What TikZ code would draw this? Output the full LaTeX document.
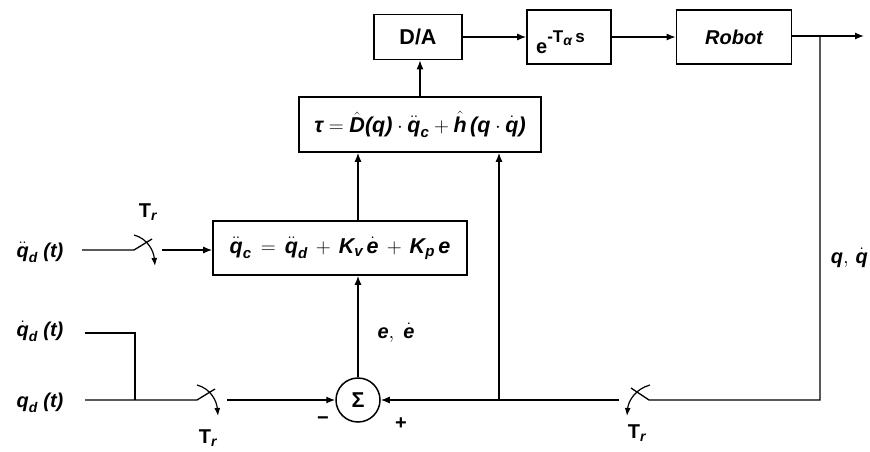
\documentclass[tikz,border=0pt]{standalone}
\usepackage{amsmath}
\usepackage{fontspec}
\setmainfont{Liberation Sans}
\usetikzlibrary{arrows.meta}
\newcommand{\tx}[1]{\text{#1}}
\begin{document}
\begin{tikzpicture}[x=1pt,y=-1pt,
  every node/.style={font=\fontsize{20}{23}\selectfont\bfseries\itshape},
  big/.style={font=\fontsize{21.5}{24}\selectfont\bfseries\itshape},
  blk/.style={draw,line width=1.6pt,inner sep=0pt},
  ln/.style={line width=1.3pt},
  arr/.style={ln,-{Latex[length=9pt,width=7pt]}},
  swarr/.style={line width=1.2pt,-{Latex[length=8pt,width=6pt]}},
  lbl/.style={inner sep=1pt}]
\useasboundingbox (0,0) rectangle (870,452);
% blocks
\node[blk,big,minimum width=88pt,minimum height=45pt] (da) at (418,37) {\upshape D/A};
\node[blk,minimum width=84pt,minimum height=54pt] (ex) at (569,37) {};
\node[lbl,anchor=base west] (exl) at (535,54) {\upshape e\raisebox{11pt}{\fontsize{17}{19}\selectfont -T$_{\tx{\fontsize{14}{15}\selectfont\itshape α}}$\,s}};
\node[blk,minimum width=115pt,minimum height=54pt] (robot) at (734,37) {Robot};
\node[blk,big,minimum width=242pt,minimum height=55pt] (tau) at (420,124.5)
  {$\tx{τ} = \hat{\tx{D}}\tx{(q)}\cdot\ddot{\tx{q}}_{\tx{c}} + \hat{\tx{h}}\,\tx{(q}\cdot\dot{\tx{q}}\tx{)}$};
\node[blk,big,minimum width=254pt,minimum height=54pt] (qc) at (340,248)
  {$\ddot{\tx{q}}_{\tx{c}} \,=\, \ddot{\tx{q}}_{\tx{d}} \,+\, \tx{K}_{\tx{v}}\,\dot{\tx{e}} \,+\, \tx{K}_{\tx{p}}\,\tx{e}$};
\node[draw,circle,big,line width=1.5pt,minimum size=44pt,inner sep=0pt] (sum) at (358,400) {\upshape Σ};
% coordinates
\coordinate (out) at (864,36);
\coordinate (br) at (820,36);
\coordinate (brd) at (820,400);
\coordinate (jb) at (499,400);
% input labels
\node[lbl] (l1) at (40,252) {$\ddot{\tx{q}}_{\tx{d}}\ \tx{(t)}$};
\node[lbl] (l2) at (40,331) {$\dot{\tx{q}}_{\tx{d}}\ \tx{(t)}$};
\node[lbl] (l3) at (40,403) {$\tx{q}_{\tx{d}}\ \tx{(t)}$};
\coordinate (a1) at (134,250);
\coordinate (b1) at (162,250);
\coordinate (a2) at (197,400);
\coordinate (b2) at (227,400);
\coordinate (a3) at (649,400);
\coordinate (b3) at (619,400);
\coordinate (k2) at (135,333);
% forward path
\draw[arr] (da) -- (ex);
\draw[arr] (ex) -- (robot);
\draw[arr] (robot.east |- out) -- (out);
\draw[arr] (tau.north) -- (tau.north |- da.south);
\draw[arr] (qc.north -| sum) -- (tau.south -| sum);
\draw[arr] (sum) -- (qc.south -| sum);
% input 1
\draw[ln] (82,250) -- (a1) -- ([shift={(18,-11)}]a1);
\draw[swarr] ([shift={(0,-15)}]a1) to[out=-15,in=95] ([shift={(21,16)}]a1);
\draw[arr] (b1) -- (b1 -| qc.west);
\node[lbl] (t1) at (148,212) {\upshape T$_{\tx{\itshape r}}$};
% input 2,3
\draw[ln] (85,333) -- (k2) -- (k2 |- a2);
\draw[ln] (85,400) -- (a2) -- ([shift={(18,-11)}]a2);
\draw[swarr] ([shift={(0,-15)}]a2) to[out=-15,in=95] ([shift={(21,16)}]a2);
\draw[arr] (b2) -- (sum.west);
\node[lbl] (t2) at (208,438) {\upshape T$_{\tx{\itshape r}}$};
% feedback
\draw[ln] (br) -- (brd) -- (a3) -- ([shift={(-18,-12)}]a3);
\draw[swarr] ([shift={(1,-15)}]a3) to[out=195,in=85] ([shift={(-22,16)}]a3);
\draw[arr] (b3) -- (sum.east);
\draw[arr] (jb) -- (tau.south -| jb);
\node[lbl] (t3) at (637,433) {\upshape T$_{\tx{\itshape r}}$};
% labels
\node[lbl] (ee) at (396,333) {$\tx{e},\ \dot{\tx{e}}$};
\node[lbl] (mi) at (323,421) {\upshape −};
\node[lbl] (pl) at (401,424) {\upshape +};
\node[lbl,anchor=east] (qq) at (869,258) {$\tx{q},\,\dot{\tx{q}}$};
\end{tikzpicture}
\end{document}
